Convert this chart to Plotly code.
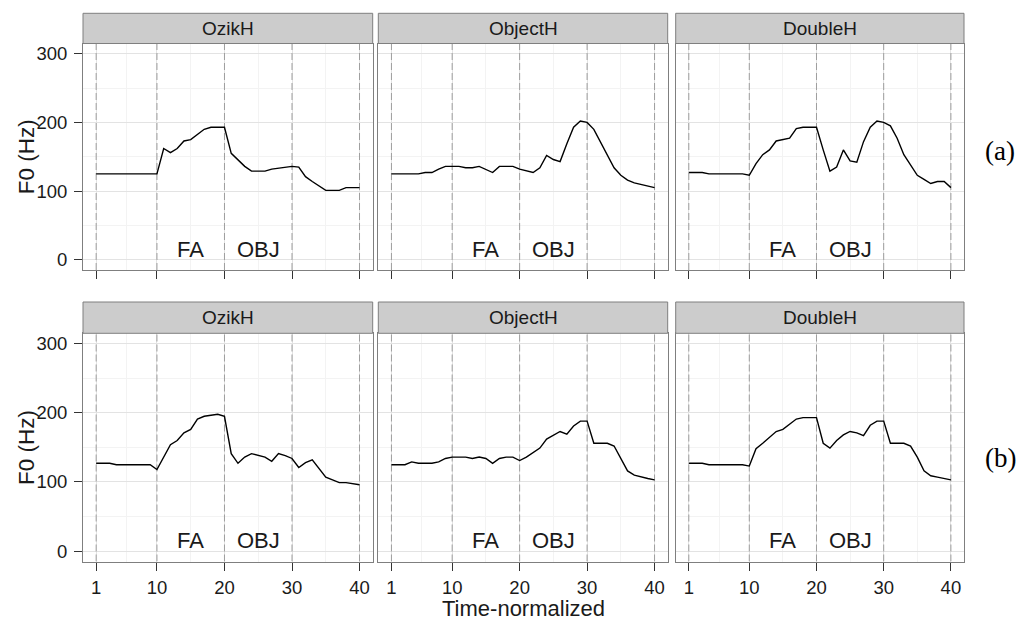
import plotly.graph_objects as go

W, H = 1019, 622

# ---- data ----
time = list(range(1, 41))
conditions = ["OzikH", "ObjectH", "DoubleH"]
row_labels = ["(a)", "(b)"]
x_tick_vals = [1, 10, 20, 30, 40]
x_tick_text = ["1", "10", "20", "30", "40"]
y_tick_vals = [0, 100, 200, 300]
y_range = [-15, 315]
boundaries = [1, 10, 20, 30, 40]
region_labels = ["FA", "OBJ"]
region_x = [15, 25]
region_y = [15, 15]

a_ozik = [125, 125, 125, 125, 125, 125, 125, 125, 125, 125,
          162, 156, 162, 173, 175, 182, 190, 193, 193, 193,
          155, 145, 136, 129, 129, 129, 132, 133, 135, 136,
          135, 121, 114, 107, 101, 101, 101, 105, 105, 105]
a_object = [125, 125, 125, 125, 125, 127, 127, 132, 136, 136,
            136, 134, 134, 136, 132, 127, 136, 136, 136, 132,
            129, 127, 134, 152, 146, 143, 169, 193, 202, 200,
            190, 172, 153, 134, 123, 116, 112, 110, 108, 105]
a_double = [127, 127, 127, 125, 125, 125, 125, 125, 125, 123,
            140, 153, 160, 173, 175, 177, 191, 193, 193, 193,
            160, 129, 135, 160, 144, 142, 172, 193, 202, 200,
            195, 177, 153, 137, 123, 117, 111, 114, 114, 105]
b_ozik = [127, 127, 127, 125, 125, 125, 125, 125, 125, 118,
          136, 154, 160, 171, 176, 191, 195, 196, 198, 195,
          141, 127, 136, 141, 139, 136, 130, 141, 138, 134,
          121, 128, 132, 119, 107, 103, 99, 99, 98, 96]
b_object = [125, 125, 125, 129, 127, 127, 127, 129, 134, 136,
            136, 136, 134, 136, 134, 127, 134, 136, 136, 131,
            136, 143, 149, 162, 168, 173, 169, 181, 188, 188,
            156, 156, 156, 152, 134, 116, 110, 107, 105, 103]
b_double = [127, 127, 127, 125, 125, 125, 125, 125, 125, 123,
            148, 156, 164, 173, 176, 184, 191, 193, 193, 193,
            156, 149, 160, 168, 173, 171, 167, 182, 188, 188,
            156, 156, 156, 152, 136, 116, 109, 107, 105, 103]

series = [[a_ozik, a_object, a_double], [b_ozik, b_object, b_double]]

# ---- layout geometry (pixels) ----
cols_px = [(83, 372.7), (378.3, 667.7), (675.7, 964)]
rows_px = [(43.5, 270), (333.3, 561.5)]          # plot areas (top, bottom)
strips_px = [(13.3, 43.5), (302, 333.3)]          # strip (top, bottom)

FONT = "Liberation Sans, Arial, sans-serif"
TXT = "#1A1A1A"

def px_x(p):
    return p / W

def px_y(p):
    return 1 - p / H

fig = go.Figure()
layout = dict(
    width=W, height=H,
    margin=dict(l=0, r=0, t=0, b=0),
    paper_bgcolor="white", plot_bgcolor="white",
    showlegend=False,
    font=dict(family=FONT, color=TXT),
)
shapes = []
annotations = []

for r in range(2):
    for c in range(3):
        k = r * 3 + c + 1
        xs = "" if k == 1 else str(k)
        xname, yname = "x" + xs, "y" + xs
        # dashed boundary lines (drawn as traces, under the F0 curve)
        for b in boundaries:
            fig.add_trace(go.Scatter(
                x=[b, b], y=y_range, mode="lines",
                line=dict(color="#9E9E9E", width=1, dash="7px,3px"),
                xaxis=xname, yaxis=yname, hoverinfo="skip"))
        fig.add_trace(go.Scatter(
            x=time, y=series[r][c], mode="lines",
            line=dict(color="black", width=1.4),
            xaxis=xname, yaxis=yname, hoverinfo="skip"))
        x0, x1 = cols_px[c]
        yt, yb = rows_px[r]
        layout["xaxis" + xs] = dict(
            domain=[px_x(x0), px_x(x1)], anchor=yname,
            range=[-0.95, 41.95], tickvals=x_tick_vals, ticktext=x_tick_text,
            ticks="outside", ticklen=8, tickcolor="#333333", tickwidth=1,
            showticklabels=(r == 1), tickfont=dict(size=18.5, color=TXT, family=FONT),
            ticklabelstandoff=1,
            showgrid=True, gridcolor="#E3E3E3", gridwidth=1,
            minor=dict(tickvals=[5.5, 15, 25, 35], showgrid=True, gridcolor="#F3F3F3", gridwidth=1),
            showline=True, mirror=True, linecolor="#7F7F7F", linewidth=1,
            zeroline=False, fixedrange=True)
        layout["yaxis" + xs] = dict(
            domain=[px_y(yb), px_y(yt)], anchor=xname,
            range=y_range, tickvals=y_tick_vals,
            ticks="outside" if c == 0 else "", ticklen=8, tickcolor="#333333", tickwidth=1,
            showticklabels=(c == 0), tickfont=dict(size=18.5, color=TXT, family=FONT),
            ticklabelstandoff=3,
            showgrid=True, gridcolor="#E3E3E3", gridwidth=1,
            minor=dict(tickvals=[50, 150, 250], showgrid=True, gridcolor="#F3F3F3", gridwidth=1),
            showline=True, mirror=True, linecolor="#7F7F7F", linewidth=1,
            zeroline=False, fixedrange=True)
        # region labels
        for lab, lx, ly in zip(region_labels, region_x, region_y):
            annotations.append(dict(xref=xname, yref=yname, x=lx, y=ly, text=lab,
                                    showarrow=False, xanchor="center", yanchor="middle",
                                    font=dict(size=22, color=TXT, family=FONT)))
        # strip
        st, sb = strips_px[r]
        shapes.append(dict(type="rect", xref="paper", yref="paper",
                           x0=px_x(x0), x1=px_x(x1), y0=px_y(sb), y1=px_y(st),
                           fillcolor="#CCCCCC", line=dict(color="#7F7F7F", width=1),
                           layer="above"))
        annotations.append(dict(xref="paper", yref="paper",
                                x=px_x((x0 + x1) / 2), y=px_y((st + sb) / 2),
                                text=conditions[c], showarrow=False,
                                xanchor="center", yanchor="middle",
                                font=dict(size=19, color=TXT, family=FONT)))
    # y-axis title per row
    yt, yb = rows_px[r]
    annotations.append(dict(xref="paper", yref="paper", x=px_x(26.5), y=px_y((yt + yb) / 2),
                            text="F0 (Hz)", textangle=-90, showarrow=False,
                            xanchor="center", yanchor="middle",
                            font=dict(size=22.5, color=TXT, family=FONT)))
    # row label
    annotations.append(dict(xref="paper", yref="paper", x=px_x(1000),
                            y=px_y([151, 458][r]), text=row_labels[r], showarrow=False,
                            xanchor="center", yanchor="middle",
                            font=dict(size=27, color="black",
                                      family="Liberation Serif, Times New Roman, serif")))

annotations.append(dict(xref="paper", yref="paper", x=px_x(523.5), y=px_y(608),
                        text="Time-normalized", showarrow=False,
                        xanchor="center", yanchor="middle",
                        font=dict(size=22, color=TXT, family=FONT)))

layout["shapes"] = shapes
layout["annotations"] = annotations
fig.update_layout(**layout)
fig.write_html("out.html")
